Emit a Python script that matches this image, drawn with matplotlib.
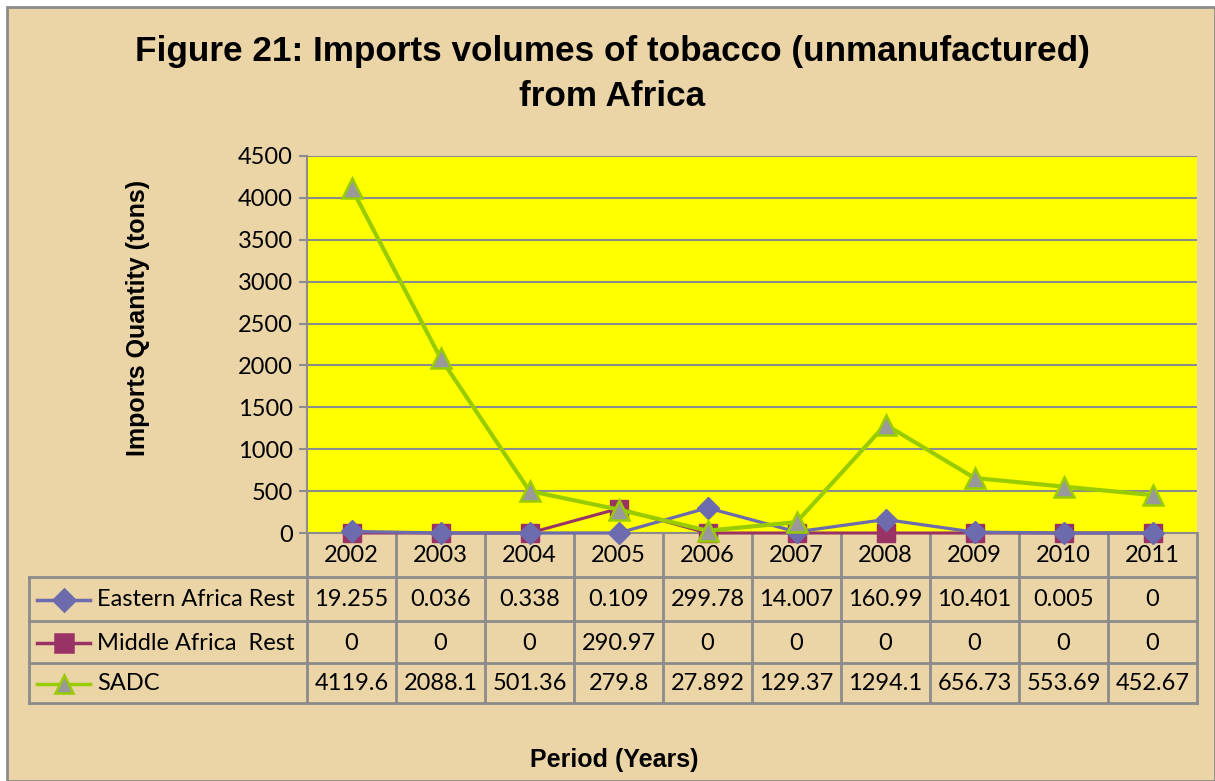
import matplotlib
matplotlib.use("Agg")
import matplotlib.pyplot as plt
import matplotlib.transforms as mtransforms
from matplotlib.lines import Line2D
from matplotlib.patches import Rectangle

years = ["2002", "2003", "2004", "2005", "2006", "2007", "2008", "2009", "2010", "2011"]
eastern = [19.255, 0.036, 0.338, 0.109, 299.78, 14.007, 160.99, 10.401, 0.005, 0]
middle = [0, 0, 0, 290.97, 0, 0, 0, 0, 0, 0]
sadc = [4119.6, 2088.1, 501.36, 279.8, 27.892, 129.37, 1294.1, 656.73, 553.69, 452.67]
series_names = ["Eastern Africa Rest", "Middle Africa  Rest", "SADC"]
eastern_lbl = ["19.255", "0.036", "0.338", "0.109", "299.78", "14.007", "160.99", "10.401", "0.005", "0"]
middle_lbl = ["0", "0", "0", "290.97", "0", "0", "0", "0", "0", "0"]
sadc_lbl = ["4119.6", "2088.1", "501.36", "279.8", "27.892", "129.37", "1294.1", "656.73", "553.69", "452.67"]
yticks = [0, 500, 1000, 1500, 2000, 2500, 3000, 3500, 4000, 4500]

W, H = 1215, 781
fig = plt.figure(figsize=(W / 100, H / 100), dpi=100)
fig.patch.set_facecolor("white")

BG = "#EBD4A6"
GRID = "#8C8C8C"
TXT_FONT = ["Lato", "DejaVu Sans"]
BOLD_FONT = ["Liberation Sans", "DejaVu Sans"]
FS = 17

bg = Rectangle((7 / W, 0), 1 - 7 / W, 1 - 7 / H, transform=fig.transFigure,
               facecolor=BG, edgecolor="#8C8C8C", linewidth=2, zorder=-10)
fig.patches.append(bg)

L, R, T, B = 307, 1197, 156, 533
ax = fig.add_axes([L / W, 1 - B / H, (R - L) / W, (B - T) / H])
ax.set_facecolor("#FFFF00")
x = list(range(len(years)))

c_e = "#6B6BAE"
c_m = "#993366"
c_s = "#99CC00"

ax.plot(x, middle, color=c_m, lw=2.2, marker="s", ms=13.5, mfc=c_m, mec=c_m, zorder=3, clip_on=False)
ax.plot(x, eastern, color=c_e, lw=2.3, marker="D", ms=11.5, mfc=c_e, mec=c_e, zorder=4, clip_on=False)
ax.plot(x, sadc, color=c_s, lw=3, marker="^", ms=14, mfc="#999999", mec=c_s, mew=1.8, zorder=5, clip_on=False)

ax.set_xlim(-0.5, len(years) - 0.5)
ax.set_ylim(0, 4500)
ax.set_yticks(yticks)
ax.set_yticklabels([str(v) for v in yticks], fontsize=FS, family=TXT_FONT)
ax.set_xticks([])
ax.yaxis.grid(True, color=GRID, lw=1.5)
ax.set_axisbelow(True)
for s in ["top", "right"]:
    ax.spines[s].set_visible(False)
ax.spines["left"].set_color(GRID)
ax.spines["left"].set_linewidth(1.5)
ax.spines["bottom"].set_color(GRID)
ax.spines["bottom"].set_linewidth(1.5)
ax.tick_params(axis="y", length=6, width=1.5, color=GRID, pad=4)

tr = mtransforms.blended_transform_factory(ax.transData, ax.transAxes)
ph = B - T
def yf(py):
    return (B - py) / ph

row_lines = [577, 621, 663, 703]
x_left_px = 29
n = len(years)
unit = (R - L) / n
x_left = -0.5 - (L - x_left_px) / unit
lw_t = 2
for i in range(n + 1):
    ax.add_line(Line2D([i - 0.5, i - 0.5], [yf(B), yf(row_lines[-1])], transform=tr, color=GRID,
                       lw=lw_t, clip_on=False, zorder=1))
ax.add_line(Line2D([x_left, x_left], [yf(row_lines[0]), yf(row_lines[-1])], transform=tr, color=GRID,
                   lw=lw_t, clip_on=False))
for py in row_lines:
    ax.add_line(Line2D([x_left, n - 0.5], [yf(py), yf(py)], transform=tr, color=GRID,
                       lw=lw_t, clip_on=False))

for i, yr in enumerate(years):
    ax.text(i, yf(555), yr, transform=tr, ha="center", va="center", fontsize=FS, family=TXT_FONT)

rows = [(eastern_lbl, c_e, "D", 11, c_e, c_e), (middle_lbl, c_m, "s", 13, c_m, c_m),
        (sadc_lbl, c_s, "^", 13, "#999999", c_s)]
centers = [600, 643, 684]
for (labels, col, mk, ms, mfc, mec), name, cy in zip(rows, series_names, centers):
    for i, lab in enumerate(labels):
        ax.text(i, yf(cy), lab, transform=tr, ha="center", va="center", fontsize=FS, family=TXT_FONT)
    kx0 = -0.5 - (L - 37) / unit
    kx1 = -0.5 - (L - 90) / unit
    km = -0.5 - (L - 64) / unit
    ax.add_line(Line2D([kx0, kx1], [yf(cy), yf(cy)], transform=tr, color=col, lw=2.5, clip_on=False))
    ax.add_line(Line2D([km], [yf(cy)], transform=tr, marker=mk, ms=ms, mfc=mfc, mec=mec, mew=1.8,
                       clip_on=False, lw=0))
    tx = -0.5 - (L - 97) / unit
    ax.text(tx, yf(cy), name, transform=tr, ha="left", va="center", fontsize=FS, family=TXT_FONT)

fig.text(612 / W, 1 - 52 / H, "Figure 21: Imports volumes of tobacco (unmanufactured)", ha="center",
         va="center", fontsize=25.3, fontweight="bold", family=BOLD_FONT)
fig.text(612 / W, 1 - 97 / H, "from Africa", ha="center", va="center", fontsize=25.3,
         fontweight="bold", family=BOLD_FONT)
fig.text(138 / W, 1 - 318 / H, "Imports Quantity (tons)", rotation=90, ha="center", va="center",
         fontsize=18, fontweight="bold", family=BOLD_FONT)
fig.text(614 / W, 1 - 760 / H, "Period (Years)", ha="center", va="center", fontsize=18,
         fontweight="bold", family=BOLD_FONT)

fig.savefig("out.png", dpi=100, facecolor=fig.get_facecolor())
